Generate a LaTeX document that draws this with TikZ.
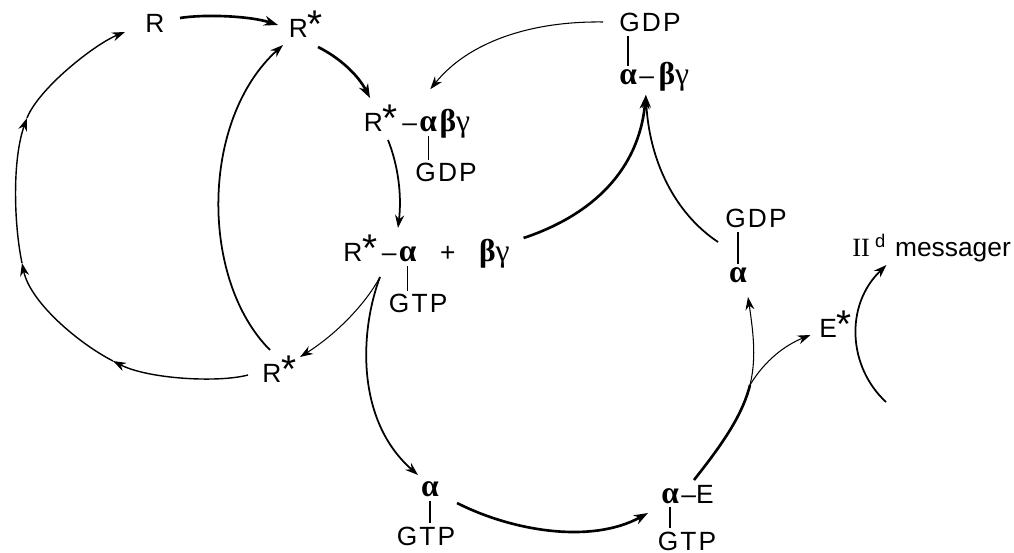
\documentclass[tikz,border=0pt]{standalone}
\usepackage{fontspec}
\setmainfont{Liberation Sans}
\newfontfamily\romfont{Liberation Serif}
\usetikzlibrary{arrows.meta, positioning}
\newcommand{\rstar}{{\fontsize{22}{22}\selectfont *}}
\newcommand{\ba}{{\fontsize{18}{18}\romfont\bfseries α}}
\newcommand{\bbg}{{\fontsize{18}{18}\romfont{\bfseries β}γ}}
\newcommand{\nuc}[1]{{\addfontfeature{LetterSpace=8}#1}}

\begin{document}
\begin{tikzpicture}[x=0.02cm, y=-0.02cm,
  lbl/.style={inner sep=2pt, font=\fontsize{15}{18}\selectfont},
  bond/.style={line width=0.8pt},
  thn/.style={line width=0.6pt, -{Stealth[length=2.6mm, width=1.8mm]}},
  med/.style={line width=1pt, -{Stealth[length=2.6mm, width=1.8mm]}},
  thk/.style={line width=1.5pt, -{Stealth[length=2.8mm, width=2mm]}},
  ringseg/.style={line width=0.8pt, -{Stealth[length=2.6mm, width=1.8mm]}},
]
\useasboundingbox (0,0) rectangle (1014,553);
% receptor states
\node[lbl, anchor=base] (r) at (155,33) {R};
\node[lbl, anchor=base west] (rs1) at (285,38) {R\rstar};
\node[lbl, anchor=base west] (rs2) at (258.5,383) {R\rstar};
% receptor bound to the trimer
\node[lbl, anchor=base west] (rag) at (360,132) {R\rstar\,--};
\node[lbl, base right=-3pt of rag] (ragA) {\ba};
\node[lbl, base right=-3pt of ragA] (ragB) {\bbg};
\node[lbl, anchor=base west] (ragG) at ([shift={(-4,50)}]ragA.base west) {\nuc{GDP}};
\draw[bond] (ragA.south) -- (ragA.south |- ragG.north);
% receptor with alpha-GTP, plus free beta-gamma
\node[lbl, anchor=base west] (ra) at (339.5,262) {R\rstar\,--};
\node[lbl, base right=-3pt of ra] (raA) {\ba};
\node[lbl, base right=9pt of raA] (raP) {+};
\node[lbl, base right=9pt of raP] (raB) {\bbg};
\node[lbl, anchor=base west] (raG) at ([shift={(-10,51)}]raA.base west) {\nuc{GTP}};
\draw[bond] (raA.south) -- (raA.south |- raG.north);
% trimer at rest
\node[lbl, anchor=base] (gdpT) at (650,32) {\nuc{GDP}};
\node[lbl, anchor=base west] (topA) at (615.5,85) {\ba};
\node[lbl, base right=-3pt of topA] (topB) {--\,\bbg};
\draw[bond] (topA.north |- gdpT.south) -- (topA.north);
\coordinate (join) at ([shift={(5,10)}]topA.base east);
% alpha back with GDP
\node[lbl, anchor=base] (gdpR) at (756,228) {\nuc{GDP}};
\node[lbl, anchor=base] (rA) at (738,283) {\ba};
\draw[bond] (rA.north |- gdpR.south) -- (rA.north);
% free alpha-GTP and alpha-effector
\node[lbl, anchor=base] (bA) at (430,497) {\ba};
\node[lbl, anchor=base] (bG) at (426,545) {\nuc{GTP}};
\draw[bond] (bA.south) -- (bA.south |- bG.north);
\node[lbl, anchor=base west] (aeA) at (657.5,503) {\ba};
\node[lbl, base right=-3pt of aeA] (aeE) {--E};
\node[lbl, anchor=base] (aeG) at (687,550) {\nuc{GTP}};
\draw[bond] (aeA.south) -- (aeA.south |- aeG.north);
% effector and messenger
\node[lbl, anchor=base west] (es) at (815.5,338) {E\rstar};
\node[lbl, anchor=base west] (msg) at (848.5,257) {{\romfont II}\kern3pt\textsuperscript{d}\hspace{5pt}messager};
\coordinate (fork) at (750,385);
\coordinate (mtail) at (886,402);
\coordinate (ring1) at (113,361);
\coordinate (ring2) at (22,263);
\coordinate (ring3) at (27,118);
% activation path
\draw[thk] ([shift={(25,-15)}]r.base) .. controls +(25,-4) and +(-28,-9) .. ([shift={(-7,-13)}]rs1.base west);
\draw[thk] ([shift={(33,9)}]rs1.base west) .. controls +(22,11) and +(-12,-23) .. ([shift={(10,-34)}]rag.base west);
\draw[med] ([shift={(28,8)}]rag.base west) .. controls +(10,25) and +(4,-33) .. ([shift={(58.5,-34)}]ra.base west);
\draw[thn] ([shift={(-47,-10)}]gdpT.base) .. controls +(-73,-1) and +(38,-47) .. ([shift={(2,-24)}]ragA.north);
% reassociation of the trimer
\draw[thk] ([shift={(10,-24)}]raB.base east) .. controls +(69,-23) and +(-7,75) .. (join);
\draw[med] ([shift={(-38,14)}]gdpR.base) .. controls +(-45,-30) and +(3,63) .. (join);
% receptor recycling
\draw[thn] ([shift={(40.5,15)}]ra.base west) .. controls +(-15,28) and +(35,-22) .. ([shift={(41.5,-26)}]rs2.base west);
\draw[med] ([shift={(11.5,-33)}]rs2.base west) .. controls +(-70,-70) and +(-83,75) .. ([shift={(-2,7)}]rs1.base west);
\draw[ringseg] ([shift={(-10.5,-8)}]rs2.base west) .. controls +(-30,8) and +(35,18) .. (ring1);
\draw[ringseg] (ring1) .. controls +(-35,-18) and +(8,39) .. (ring2);
\draw[ringseg] (ring2) .. controls +(-8,-38) and +(-15,42) .. (ring3);
\draw[ringseg] (ring3) .. controls +(12,-30) and +(-30,12) .. ([shift={(-30,-1)}]r.base);
% alpha-GTP to the effector
\draw[med] ([shift={(40.5,15)}]ra.base west) .. controls +(-20,53) and +(-63,-55) .. ([shift={(-12,-22)}]bA.base);
\draw[thk] ([shift={(27,6)}]bA.base) .. controls +(53,27) and +(-58,32) .. ([shift={(-9.5,10)}]aeA.base west);
\draw[line width=1.5pt] ([shift={(36.5,-23)}]aeA.base west) .. controls +(26,-33) and +(-8,32) .. (fork);
\draw[thn] (fork) .. controls +(6,-25) and +(6,40) .. ([shift={(10,14)}]rA.base);
\draw[thn] (fork) .. controls +(15,-25) and +(-25,10) .. ([shift={(-5,-3)}]es.base west);
\draw[med] (mtail) .. controls +(-38,-35) and +(-42,40) .. ([shift={(38,8)}]msg.base west);
\end{tikzpicture}
\end{document}
